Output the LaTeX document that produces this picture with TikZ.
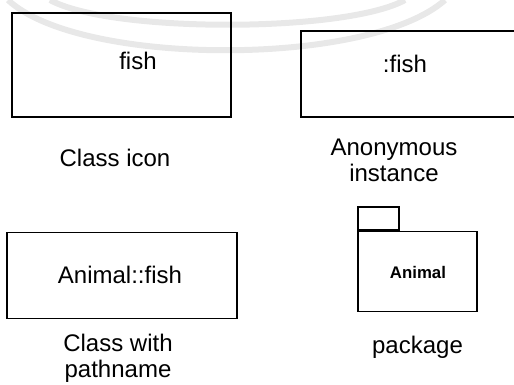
\documentclass[tikz,border=0pt]{standalone}
\usepackage{fontspec}
\setmainfont{Liberation Sans}
\usetikzlibrary{positioning}
\tikzset{
  umlbox/.style={draw,line width=0.75pt,rectangle,inner sep=0pt},
  caption/.style={align=center,font=\fontsize{12}{13}\selectfont}
}
\begin{document}
\begin{tikzpicture}[x=0.5pt,y=-0.5pt]
\fontsize{12}{13}\selectfont
\clip (0,0) rectangle (514,385);
% faint arcs in the background
\draw[line width=3pt,gray!18] (8,0) .. controls (80,67) and (370,67) .. (445,0);
\draw[line width=3pt,gray!18] (50,0) .. controls (110,33) and (345,33) .. (405,0);
% class icon
\node[umlbox,minimum width=109.5pt,minimum height=52pt] (cls) at (121.5,65) {};
\node (clsname) at (138,61) {fish};
\node[caption] (clscap) at (115,158) {Class icon};
% anonymous instance, runs past the right edge
\node[umlbox,minimum width=115pt,minimum height=43pt] (inst) at (416,74) {};
\node (instname) at (405,64) {:fish};
\node[caption] (instcap) at (394,160) {Anonymous\\instance};
% class with pathname
\node[umlbox,minimum width=115pt,minimum height=43pt] (path) at (122,275.5) {};
\node (pathname) at (120,275) {Animal::fish};
\node[caption] (pathcap) at (118,358) {Class with\\pathname};
% package with its tab
\node[umlbox,minimum width=59.5pt,minimum height=40pt] (pkg) at (417.5,271.5) {};
\node[umlbox,minimum width=20.5pt,minimum height=11.5pt,anchor=south west] (tab) at (pkg.north west) {};
\node[font=\fontsize{8.4}{9}\selectfont\bfseries] (pkgname) at (418,272) {Animal};
\node[caption] (pkgcap) at (417.5,347) {package};
\end{tikzpicture}
\end{document}
